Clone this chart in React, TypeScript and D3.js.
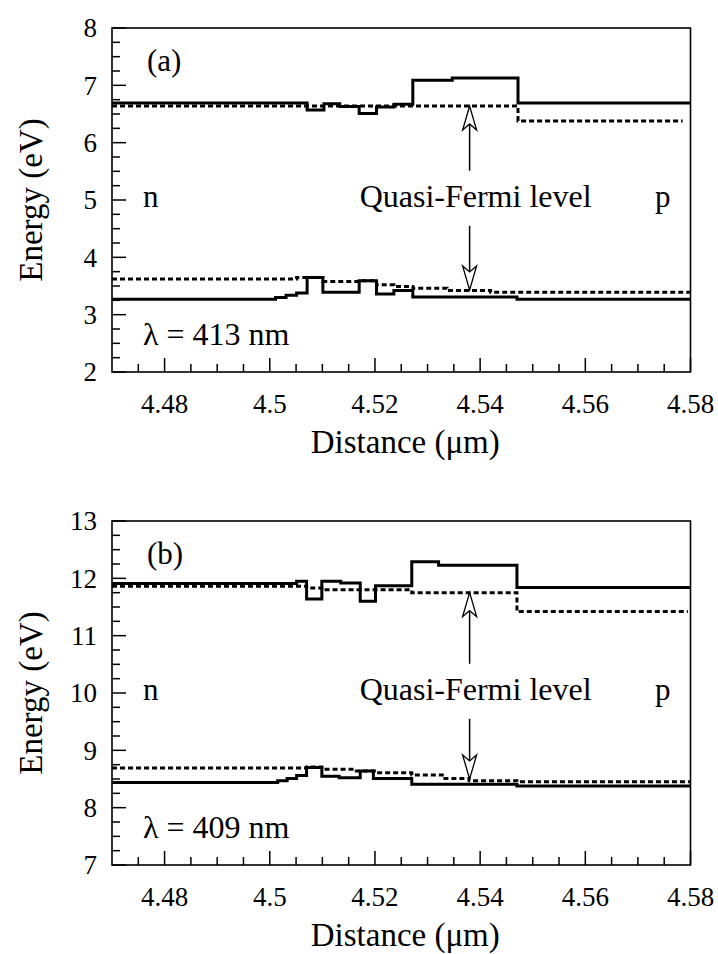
import React from "react";
import * as d3 from "d3";

// ---------- data ----------
const xDomain: [number, number] = [4.47, 4.58];
const xTickValues = [4.48, 4.5, 4.52, 4.54, 4.56, 4.58];
const xTickLabels = ["4.48", "4.5", "4.52", "4.54", "4.56", "4.58"];

const aYDomain: [number, number] = [2, 8];
const aYTicks = [2, 3, 4, 5, 6, 7, 8];
const bYDomain: [number, number] = [7, 13];
const bYTicks = [7, 8, 9, 10, 11, 12, 13];

// Panel (a)
const aSolidUpperX = [4.47, 4.5071, 4.5103, 4.5133, 4.517, 4.5203, 4.5236, 4.5272, 4.5347, 4.5472, 4.58];
const aSolidUpperY = [6.69, 6.57, 6.68, 6.63, 6.51, 6.62, 6.67, 7.09, 7.13, 6.69, 6.69];
const aDashUpperX = [4.47, 4.5472, 4.5785];
const aDashUpperY = [6.64, 6.38, 6.38];
const aSolidLowerX = [4.47, 4.5011, 4.5031, 4.5051, 4.5071, 4.5101, 4.517, 4.5203, 4.5236, 4.5272, 4.547, 4.58];
const aSolidLowerY = [3.27, 3.3, 3.34, 3.38, 3.65, 3.39, 3.59, 3.36, 3.42, 3.31, 3.27, 3.27];
const aDashLowerX = [4.47, 4.5051, 4.5101, 4.517, 4.5203, 4.5236, 4.5272, 4.5337, 4.542, 4.58];
const aDashLowerY = [3.62, 3.65, 3.58, 3.59, 3.52, 3.49, 3.46, 3.42, 3.39, 3.39];

// Panel (b)
const bSolidUpperX = [4.47, 4.5051, 4.507, 4.5099, 4.5135, 4.5172, 4.5201, 4.527, 4.5321, 4.547, 4.58];
const bSolidUpperY = [11.91, 11.95, 11.64, 11.95, 11.92, 11.6, 11.87, 12.29, 12.23, 11.84, 11.84];
const bDashUpperX = [4.47, 4.507, 4.5099, 4.527, 4.547, 4.5795];
const bDashUpperY = [11.86, 11.83, 11.8, 11.75, 11.42, 11.42];
const bSolidLowerX = [4.47, 4.5015, 4.5033, 4.5051, 4.507, 4.5099, 4.5132, 4.5172, 4.5197, 4.527, 4.547, 4.58];
const bSolidLowerY = [8.44, 8.47, 8.51, 8.56, 8.7, 8.55, 8.52, 8.64, 8.51, 8.41, 8.38, 8.38];
const bDashLowerX = [4.47, 4.507, 4.5099, 4.5161, 4.5204, 4.527, 4.5328, 4.5379, 4.547, 4.58];
const bDashLowerY = [8.69, 8.71, 8.67, 8.64, 8.61, 8.57, 8.51, 8.47, 8.45, 8.45];

// arrows: [upTip, upTail, downTail, downTip] at arrowX
const arrowX = 4.538;
const aArrow = [6.64, 5.51, 4.55, 3.43];
const bArrow = [11.75, 10.51, 9.55, 8.5];

const panelLabels = ["(a)", "(b)"];
const lambdaLabels = ["\u03bb = 413 nm", "\u03bb = 409 nm"];
const fermiLabel = "Quasi-Fermi level";
const xTitle = "Distance (\u03bcm)";
const yTitle = "Energy (eV)";

// ---------- layout ----------
const W = 718;
const H = 954;
const LEFT = 112;
const RIGHT = 690.5;
const PANEL_H = 344;
const TOPS = [28, 521];
const FONT = "Liberation Serif";

const x = d3.scaleLinear().domain(xDomain).range([LEFT, RIGHT]);

type PanelProps = {
  top: number;
  yDomain: [number, number];
  yTicks: number[];
  series: { xs: number[]; ys: number[]; dashed: boolean }[];
  arrow: number[];
  label: string;
  lambda: string;
};

const txt = (size: number): React.CSSProperties => ({ fontFamily: FONT, fontSize: size });

function Panel({ top, yDomain, yTicks, series, arrow, label, lambda }: PanelProps) {
  const bottom = top + PANEL_H;
  const y = d3.scaleLinear().domain(yDomain).range([bottom, top]);
  const line = d3
    .line<[number, number]>()
    .x((d) => x(d[0]))
    .y((d) => y(d[1]))
    .curve(d3.curveStepAfter);

  const yMinor = d3.range(yDomain[0], yDomain[1] + 0.001, 0.25).filter((v) => Math.abs(v - Math.round(v)) > 0.01);
  const xMinor = d3.range(4.475, 4.58, 0.005).filter((v) => !xTickValues.some((t) => Math.abs(t - v) < 0.0005));

  const ax = x(arrowX);
  const upTip = y(arrow[0]);
  const upTail = y(arrow[1]);
  const dnTail = y(arrow[2]);
  const dnTip = y(arrow[3]);
  const hl = 24;
  const hw = 7;
  const notch = 18;

  const textBase = y(yDomain[0] + 2.88);

  return (
    <g>
      {series.map((s, i) => (
        <path
          key={i}
          d={line(s.xs.map((v, j) => [v, s.ys[j]] as [number, number])) || ""}
          fill="none"
          stroke="#000"
          strokeWidth={3}
          strokeDasharray={s.dashed ? "5 3" : undefined}
        />
      ))}
      <rect x={LEFT} y={top} width={RIGHT - LEFT} height={PANEL_H} fill="none" stroke="#000" strokeWidth={1.6} />
      {yTicks.map((t) => (
        <g key={"yt" + t}>
          <line x1={LEFT} x2={LEFT + 14} y1={y(t)} y2={y(t)} stroke="#000" strokeWidth={1.5} />
          <text x={97} y={y(t)} dy="0.35em" textAnchor="end" style={txt(27)}>
            {t}
          </text>
        </g>
      ))}
      {yMinor.map((t, i) => (
        <line key={"ym" + i} x1={LEFT} x2={LEFT + 8} y1={y(t)} y2={y(t)} stroke="#000" strokeWidth={1.5} />
      ))}
      {xTickValues.map((t, i) => (
        <g key={"xt" + t}>
          <line x1={x(t)} x2={x(t)} y1={bottom} y2={bottom - 14} stroke="#000" strokeWidth={1.5} />
          <text x={x(t)} y={bottom + 41} textAnchor="middle" style={txt(27)}>
            {xTickLabels[i]}
          </text>
        </g>
      ))}
      {xMinor.map((t, i) => (
        <line key={"xm" + i} x1={x(t)} x2={x(t)} y1={bottom} y2={bottom - 8} stroke="#000" strokeWidth={1.5} />
      ))}
      <text
        transform={`translate(30,${(top + bottom) / 2}) rotate(-90)`}
        textAnchor="middle"
        dy="0.35em"
        style={txt(33)}
      >
        {yTitle}
      </text>
      <text x={(LEFT + RIGHT) / 2 + 4} y={bottom + 81} textAnchor="middle" style={txt(33)}>
        {xTitle}
      </text>
      <text x={147} y={top + 43} style={txt(31)}>
        {label}
      </text>
      <text x={143} y={textBase} style={txt(31)}>
        n
      </text>
      <text x={ax + 6} y={textBase} textAnchor="middle" style={txt(32)}>
        {fermiLabel}
      </text>
      <text x={655} y={textBase} style={txt(31)}>
        p
      </text>
      <text x={143} y={bottom - 27} style={txt(32)}>
        {lambda}
      </text>
      <line x1={ax} x2={ax} y1={upTip + notch} y2={upTail} stroke="#000" strokeWidth={1.5} />
      <path
        d={`M${ax},${upTip} L${ax - hw},${upTip + hl} L${ax},${upTip + notch} L${ax + hw},${upTip + hl} Z`}
        fill="#fff"
        stroke="#000"
        strokeWidth={1.3}
      />
      <line x1={ax} x2={ax} y1={dnTail} y2={dnTip - notch} stroke="#000" strokeWidth={1.5} />
      <path
        d={`M${ax},${dnTip} L${ax - hw},${dnTip - hl} L${ax},${dnTip - notch} L${ax + hw},${dnTip - hl} Z`}
        fill="#fff"
        stroke="#000"
        strokeWidth={1.3}
      />
    </g>
  );
}

export default function App() {
  const aSeries = [
    { xs: aDashUpperX, ys: aDashUpperY, dashed: true },
    { xs: aDashLowerX, ys: aDashLowerY, dashed: true },
    { xs: aSolidUpperX, ys: aSolidUpperY, dashed: false },
    { xs: aSolidLowerX, ys: aSolidLowerY, dashed: false },
  ];
  const bSeries = [
    { xs: bDashUpperX, ys: bDashUpperY, dashed: true },
    { xs: bDashLowerX, ys: bDashLowerY, dashed: true },
    { xs: bSolidUpperX, ys: bSolidUpperY, dashed: false },
    { xs: bSolidLowerX, ys: bSolidLowerY, dashed: false },
  ];
  return (
    <svg
      width={W}
      height={H}
      viewBox={`0 0 ${W} ${H}`}
      style={{ position: "absolute", left: 0, top: 0, background: "#fff" }}
    >
      <rect x={0} y={0} width={W} height={H} fill="#fff" />
      <Panel
        top={TOPS[0]}
        yDomain={aYDomain}
        yTicks={aYTicks}
        series={aSeries}
        arrow={aArrow}
        label={panelLabels[0]}
        lambda={lambdaLabels[0]}
      />
      <Panel
        top={TOPS[1]}
        yDomain={bYDomain}
        yTicks={bYTicks}
        series={bSeries}
        arrow={bArrow}
        label={panelLabels[1]}
        lambda={lambdaLabels[1]}
      />
    </svg>
  );
}
